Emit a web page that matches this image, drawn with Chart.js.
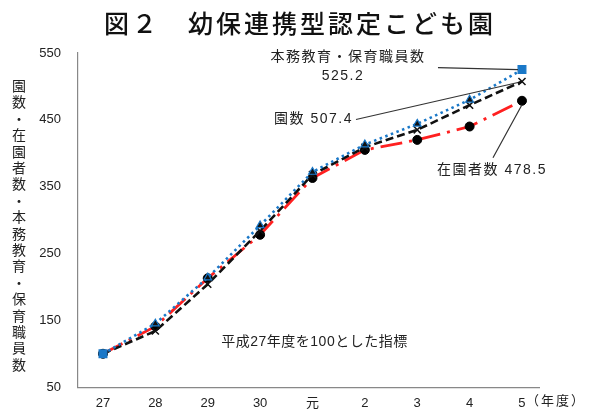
<!DOCTYPE html>
<html lang="ja">
<head>
<meta charset="utf-8">
<script src="https://cdn.jsdelivr.net/npm/chart.js@4"></script>
<style>
  html, body { margin: 0; padding: 0; background: #fff; }
  #wrap { width: 593px; height: 412px; }
</style>
</head>
<body>
<div id="wrap"><canvas id="chart"></canvas></div>
<script>
// 年度
const years = ['27', '28', '29', '30', '元', '2', '3', '4', '5'];
// 平成27年度を100とした指標
const staffIdx  = [100, 145, 214, 292, 372, 413, 444, 480, 525.2]; // 本務教育・保育職員数
const schoolIdx = [100, 134, 204, 284, 368, 409, 435, 472, 507.4]; // 園数
const pupilIdx  = [100, 141, 213, 278, 363, 405, 420, 440, 478.5]; // 在園者数
const yTicks = [50, 150, 250, 350, 450, 550];

const chartTitle = '図２　幼保連携型認定こども園';
const yTitle = '園数・在園者数・本務教育・保育職員数';
const FONT = '"Liberation Sans", "Noto Sans CJK JP", sans-serif';
const TEXT = '#222';

const last = years.length - 1;
const staffMarks = years.map((_, i) => (i === 0 || i === last) ? 'rect' : 'triangle');
const staffFill = years.map((_, i) => (i === 0 || i === last) ? '#1a78c8' : '#111');
const staffSize = years.map((_, i) => (i === 0 || i === last) ? 5.5 : 4.5);

const toXY = vals => vals.map((v, i) => ({ x: i, y: v }));

// title, labels beside the last points, vertical axis title, 年度 unit
const notes = {
  id: 'notes',
  afterDatasetsDraw(chart) {
    const { ctx, scales: { x, y } } = chart;
    const px = x.getPixelForValue(last);
    const yS = y.getPixelForValue(staffIdx[last]);
    const yK = y.getPixelForValue(schoolIdx[last]);
    const yP = y.getPixelForValue(pupilIdx[last]);

    ctx.save();
    ctx.textBaseline = 'middle';
    ctx.textAlign = 'center';

    // title
    ctx.fillStyle = '#111';
    ctx.font = '500 25px "Noto Sans CJK JP", sans-serif';
    ctx.letterSpacing = '3px';
    ctx.fillText(chartTitle, 300, 23);

    ctx.strokeStyle = '#333';
    ctx.lineWidth = 1.2;
    ctx.beginPath();
    ctx.moveTo(px - 84, yS - 2); ctx.lineTo(px - 4, yS);
    ctx.moveTo(px - 166, yK + 38); ctx.lineTo(px - 4, yK + 1);
    ctx.moveTo(px - 29, yP + 57); ctx.lineTo(px, yP + 4);
    ctx.stroke();

    ctx.fillStyle = TEXT;
    ctx.font = '14px ' + FONT;
    ctx.letterSpacing = '1.5px';
    ctx.fillText('本務教育・保育職員数', px - 174, yS - 12);
    ctx.fillText(staffIdx[last].toFixed(1), px - 179, yS + 7);
    ctx.fillText('在園者数 ' + pupilIdx[last].toFixed(1), px - 30, yP + 69);
    ctx.textAlign = 'right';
    ctx.fillText('園数 ' + schoolIdx[last].toFixed(1), px - 169, yK + 38);

    ctx.textAlign = 'center';
    ctx.letterSpacing = '0.5px';
    ctx.fillText('平成27年度を100とした指標', x.getPixelForValue(4) + 2, y.getPixelForValue(117));

    // unit after the last year label
    ctx.letterSpacing = '2px';
    ctx.font = '13px ' + FONT;
    ctx.fillText('（年度）', px + 34, x.top + 14);

    // vertical y title, one character per row
    ctx.letterSpacing = '0px';
    const pitch = 16.4;
    const cy = (chart.chartArea.top + chart.chartArea.bottom) / 2 + 5;
    const y0 = cy - (yTitle.length - 1) / 2 * pitch;
    ctx.font = '14px "Noto Sans CJK JP", sans-serif';
    [...yTitle].forEach((c, i) => ctx.fillText(c, 19, y0 + i * pitch));
    ctx.restore();
  }
};

new Chart(document.getElementById('chart'), {
  type: 'line',
  data: {
    datasets: [
      {
        label: '本務教育・保育職員数', data: toXY(staffIdx), order: 0,
        borderColor: '#1a78c8', borderWidth: 2.6, borderDash: [2.5, 3.5],
        pointStyle: staffMarks, pointRadius: staffSize,
        pointBackgroundColor: staffFill, pointBorderColor: '#1a78c8', pointBorderWidth: 1.2,
        tension: 0, fill: false
      },
      {
        label: '園数', data: toXY(schoolIdx), order: 1,
        borderColor: '#111', borderWidth: 2.6, borderDash: [8, 4],
        pointStyle: 'crossRot', pointRadius: 5,
        pointBorderColor: '#111', pointBorderWidth: 1.5,
        tension: 0, fill: false
      },
      {
        label: '在園者数', data: toXY(pupilIdx), order: 2,
        borderColor: '#ff2020', borderWidth: 2.8, borderDash: [22, 7, 3, 7],
        pointStyle: 'circle', pointRadius: 4.5,
        pointBackgroundColor: '#000', pointBorderColor: '#000', pointBorderWidth: 1,
        tension: 0, fill: false
      }
    ]
  },
  options: {
    responsive: true,
    maintainAspectRatio: false,
    animation: false,
    layout: { padding: { left: 0, right: 54, top: 53, bottom: 0 } },
    plugins: {
      legend: { display: false },
      tooltip: { enabled: false },
      title: { display: false }
    },
    scales: {
      x: {
        type: 'linear',
        min: -0.477, max: 8.325,
        grid: { display: false, drawTicks: false },
        border: { display: true, color: '#888', width: 1.2 },
        ticks: {
          color: TEXT, font: { family: FONT, size: 13 }, padding: 8, maxRotation: 0,
          callback: v => years[v]
        },
        afterBuildTicks: s => { s.ticks = years.map((_, i) => ({ value: i })); },
        afterFit: s => { s.height = 24; }
      },
      y: {
        min: 50, max: 550,
        grid: { display: false, drawTicks: false },
        border: { display: true, color: '#888', width: 1.2 },
        ticks: { color: TEXT, font: { family: FONT, size: 13 }, padding: 17 },
        afterBuildTicks: s => { s.ticks = yTicks.map(v => ({ value: v })); },
        afterFit: s => { s.width = 78; }
      }
    }
  },
  plugins: [notes]
});
</script>
</body>
</html>
